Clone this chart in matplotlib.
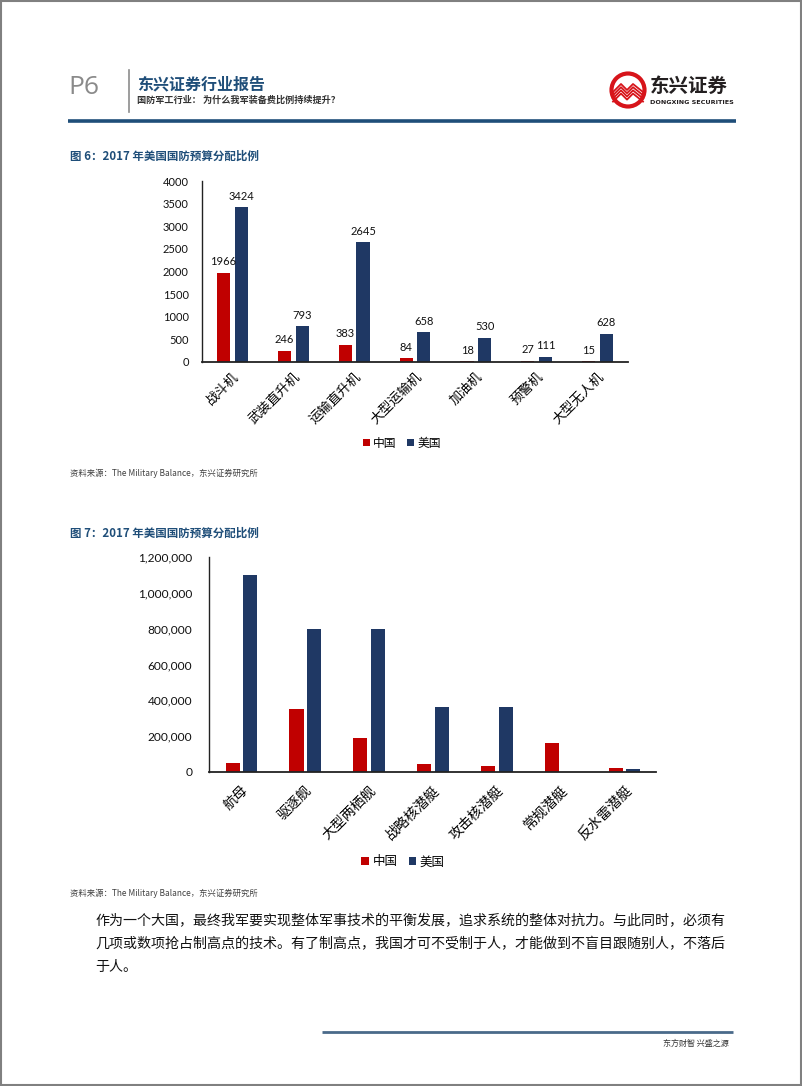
import numpy as np
import matplotlib as mpl
mpl.use('Agg')
from matplotlib import pyplot as plt
from matplotlib.patches import Circle, Rectangle
from matplotlib.ticker import FuncFormatter

plt.rcParams['font.family'] = ['Noto Sans CJK SC', 'DejaVu Sans']

# figure 6 data
cats1 = ['战斗机', '武装直升机', '运输直升机', '大型运输机', '加油机', '预警机', '大型无人机']
china1 = [1966, 246, 383, 84, 18, 27, 15]
usa1 = [3424, 793, 2645, 658, 530, 111, 628]

# figure 7 data
cats2 = ['航母', '驱逐舰', '大型两栖舰', '战略核潜艇', '攻击核潜艇', '常规潜艇', '反水雷潜艇']
china2 = [50000, 350000, 190000, 43000, 32000, 160000, 21000]
usa2 = [1100000, 800000, 800000, 365000, 365000, 0, 15000]

series = ['中国', '美国']
RED = '#C00000'
NAVY = '#1F3864'
TITLE_BLUE = '#1F4E79'
NUM_FONT = ['Lato', 'DejaVu Sans']

W, H = 802, 1086
fig = plt.figure(figsize=(W / 100, H / 100), dpi=100)


def rect(x0, y0, x1, y1):
    # pixel box (top-left origin) -> figure fraction
    return [x0 / W, 1 - y1 / H, (x1 - x0) / W, (y1 - y0) / H]


# page overlay for header / footer / text
page = fig.add_axes([0, 0, 1, 1], zorder=-1)
page.set_xlim(0, W)
page.set_ylim(H, 0)
page.axis('off')
page.add_patch(Rectangle((1, 1), W - 2, H - 2, fill=False, ec='#808080', lw=1.5))

page.text(68, 87, 'P6', fontsize=19, color='#8a8a8a', va='center', ha='left',
          family=['Open Sans', 'DejaVu Sans'])
page.plot([129, 129], [70, 112], color='#8c8c8c', lw=1.2)
page.text(137, 84, '东兴证券行业报告', fontsize=11.5, color=TITLE_BLUE, fontweight='bold',
          va='center', ha='left')
page.text(137, 100, '国防军工行业： 为什么我军装备费比例持续提升？', fontsize=6.6,
          color='#333333', va='center', ha='left', fontweight='bold')
page.plot([68, 736], [121, 121], color=TITLE_BLUE, lw=2.6, solid_capstyle='butt')

# logo
page.add_patch(Circle((628, 90), 16.5, fc='white', ec='#D7141A', lw=3))
for k in range(4):
    dy = k * 3.2
    page.plot([613, 621, 627, 633, 643], [92 + dy, 84 + dy, 90 + dy, 84 + dy, 92 + dy],
              color='#D7141A', lw=1.3)
page.text(650, 86, '东兴证券', fontsize=14, fontweight='bold', color='#231f20',
          va='center', ha='left')
page.text(650, 102, 'DONGXING SECURITIES', fontsize=4.6, fontweight='bold',
          color='#231f20', va='center', ha='left', family=['DejaVu Sans'])

# titles and sources
page.text(70, 156, '图 6：2017 年美国国防预算分配比例', fontsize=8.3, fontweight='bold',
          color=TITLE_BLUE, va='center', ha='left')
page.text(70, 533, '图 7：2017 年美国国防预算分配比例', fontsize=8.3, fontweight='bold',
          color=TITLE_BLUE, va='center', ha='left')
src = '资料来源：The Military Balance，东兴证券研究所'
page.text(70, 473, src, fontsize=6, style='italic', color='#404040', va='center', ha='left')
page.text(70, 893, src, fontsize=6, style='italic', color='#404040', va='center', ha='left')

body = ['作为一个大国，最终我军要实现整体军事技术的平衡发展，追求系统的整体对抗力。与此同时，必须有',
        '几项或数项抢占制高点的技术。有了制高点，我国才可不受制于人，才能做到不盲目跟随别人，不落后',
        '于人。']
for i, line in enumerate(body):
    page.text(95, 921 + i * 23, line, fontsize=10.1, color='#111111', va='center', ha='left')

page.plot([322, 733], [1032, 1032], color='#4a6a8a', lw=2, solid_capstyle='butt')
page.text(729, 1043, '东方财智 兴盛之源', fontsize=5.8, color='#333333', va='center', ha='right')


def style_axes(ax, pad_y, pad_x, label_size):
    for s in ['top', 'right']:
        ax.spines[s].set_visible(False)
    ax.spines['left'].set_color('#222222')
    ax.spines['bottom'].set_color('#222222')
    ax.spines['left'].set_linewidth(1.0)
    ax.spines['bottom'].set_linewidth(1.3)
    ax.tick_params(axis='y', length=0, pad=pad_y, labelsize=8, labelcolor='#111111')
    ax.tick_params(axis='x', length=0, pad=pad_x)
    for lab in ax.get_yticklabels():
        lab.set_family(NUM_FONT)
    for lab in ax.get_xticklabels():
        lab.set_rotation(45)
        lab.set_ha('right')
        lab.set_rotation_mode('anchor')
        lab.set_fontsize(label_size)


# chart 1
ax1 = fig.add_axes(rect(202, 181, 628, 362))
x1 = np.arange(len(cats1))
w1 = 0.215
b_cn = ax1.bar(x1 - 0.145, china1, w1, color=RED, label=series[0])
b_us = ax1.bar(x1 + 0.145, usa1, w1, color=NAVY, label=series[1])
for bars, vals in [(b_cn, china1), (b_us, usa1)]:
    for b, v in zip(bars, vals):
        ax1.annotate(str(v), (b.get_x() + b.get_width() / 2, v), xytext=(0, 4),
                     textcoords='offset points', ha='center', va='bottom',
                     fontsize=8, family=NUM_FONT, color='#111111')
ax1.set_xlim(-0.5, len(cats1) - 0.5)
ax1.set_ylim(0, 4000)
ax1.set_yticks(np.arange(0, 4001, 500))
ax1.set_xticks(x1)
ax1.set_xticklabels(cats1)
style_axes(ax1, 9.5, 6, 9.5)
ax1.legend(loc='center', bbox_to_anchor=(402 / W, 1 - 443 / H), bbox_transform=fig.transFigure,
           ncol=2, frameon=False, fontsize=8.5, handlelength=0.6, handleheight=0.6,
           handletextpad=0.3, columnspacing=0.9)

# chart 2
ax2 = fig.add_axes(rect(209, 557, 656, 772))
x2 = np.arange(len(cats2))
w2 = 0.22
ax2.bar(x2 - 0.13, china2, w2, color=RED, label=series[0])
ax2.bar(x2 + 0.145, usa2, w2, color=NAVY, label=series[1])
ax2.set_xlim(-0.5, len(cats2) - 0.5)
ax2.set_ylim(0, 1200000)
ax2.set_yticks(np.arange(0, 1200001, 200000))
ax2.yaxis.set_major_formatter(FuncFormatter(lambda v, p: f'{int(v):,}'))
ax2.set_xticks(x2)
ax2.set_xticklabels(cats2)
style_axes(ax2, 12, 8, 10)
for lab in ax2.get_yticklabels():
    lab.set_fontsize(8.6)
ax2.legend(loc='center', bbox_to_anchor=(403 / W, 1 - 862 / H), bbox_transform=fig.transFigure,
           ncol=2, frameon=False, fontsize=9, handlelength=0.6, handleheight=0.6,
           handletextpad=0.3, columnspacing=0.9)

fig.savefig('out.png', dpi=100)
